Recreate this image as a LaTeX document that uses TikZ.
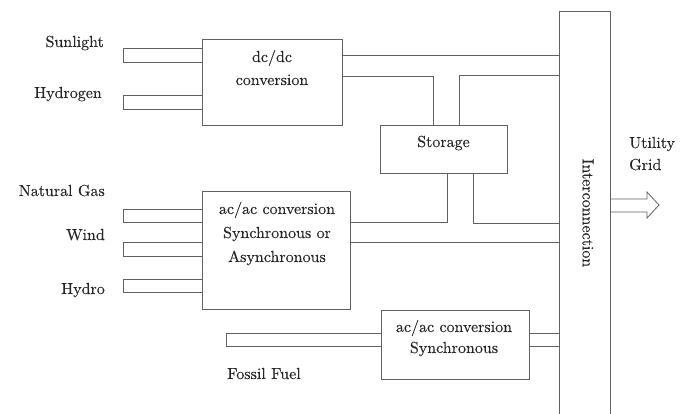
\documentclass[tikz,border=0pt]{standalone}
\usepackage{fontspec}
\setmainfont{lmroman10-regular.otf}[FakeBold=0.15]
\definecolor{linec}{gray}{0.38}
\definecolor{textc}{gray}{0.15}
\begin{document}
\begin{tikzpicture}[x=1pt,y=-1pt,
  box/.style={draw=linec,line width=0.8pt,inner sep=0pt,outer sep=0pt},
  wire/.style={draw=linec,line width=0.8pt},
  lbl/.style={text=textc,inner sep=0pt,font=\fontsize{16}{19}\selectfont}]
\useasboundingbox (0,0) rectangle (689,413);
% boxes
\node[box,minimum width=140pt,minimum height=86pt] (dcdc) at (272,82) {};
\node[box,minimum width=127pt,minimum height=48pt] (storage) at (443.5,149) {};
\node[box,minimum width=148pt,minimum height=118pt] (acac) at (276,250) {};
\node[box,minimum width=148pt,minimum height=69pt] (acsync) at (455,344.5) {};
\node[box,minimum width=51pt,minimum height=406pt] (inter) at (584.5,214.5) {};
% box texts
\node[lbl,anchor=base] (dct1) at (272,62) {dc/dc};
\node[lbl,anchor=base] (dct2) at (272,85) {conversion};
\node[lbl,anchor=base] (stt) at (443.5,147) {Storage};
\node[lbl,anchor=base] (act1) at (277,214) {ac/ac conversion};
\node[lbl,anchor=base] (act2) at (277,238) {Synchronous or};
\node[lbl,anchor=base] (act3) at (277,262) {Asynchronous};
\node[lbl,anchor=base] (ast1) at (454,332) {ac/ac conversion};
\node[lbl,anchor=base] (ast2) at (454,353) {Synchronous};
\node[lbl,rotate=-90] (intt) at (588,213) {Interconnection};
% source labels
\node[lbl,anchor=base east] (sun) at (104,47) {Sunlight};
\node[lbl,anchor=base east] (hyd) at (102,98) {Hydrogen};
\node[lbl,anchor=base east] (gas) at (105,196) {Natural Gas};
\node[lbl,anchor=base east] (wind) at (105,240) {Wind};
\node[lbl,anchor=base east] (hydro) at (105,294) {Hydro};
\node[lbl,anchor=base west] (fossil) at (227,379) {Fossil Fuel};
\node[lbl,anchor=base west] (util) at (629,148) {Utility};
\node[lbl,anchor=base west] (grid) at (629,170) {Grid};
% input stubs
\draw[wire] (dcdc.west |- 0,48) -- (123,48) -- (123,62) -- (dcdc.west |- 0,62);
\draw[wire] (dcdc.west |- 0,95) -- (123,95) -- (123,109) -- (dcdc.west |- 0,109);
\draw[wire] (acac.west |- 0,209) -- (123,209) -- (123,222) -- (acac.west |- 0,222);
\draw[wire] (acac.west |- 0,242) -- (123,242) -- (123,256) -- (acac.west |- 0,256);
\draw[wire] (acac.west |- 0,279) -- (123,279) -- (123,292) -- (acac.west |- 0,292);
\draw[wire] (acsync.west |- 0,333) -- (226,333) -- (226,346) -- (acsync.west |- 0,346);
% connections
\draw[wire] (dcdc.east |- 0,55) -- (inter.west |- 0,55);
\draw[wire] (dcdc.east |- 0,76) -- (433,76) -- (433,0 |- storage.north);
\draw[wire] (inter.west |- 0,75) -- (459,75) -- (459,0 |- storage.north);
\draw[wire] (447,0 |- storage.south) -- (447,222) -- (acac.east |- 0,222);
\draw[wire] (473,0 |- storage.south) -- (473,223) -- (inter.west |- 0,223);
\draw[wire] (acac.east |- 0,242) -- (inter.west |- 0,242);
\draw[wire] (acsync.east |- 0,333) -- (inter.west |- 0,333);
\draw[wire] (acsync.east |- 0,346) -- (inter.west |- 0,346);
% output arrow
\draw[wire,line join=miter] (inter.east |- 0,199) -- (647,199) -- (647,192) -- (659,205) -- (647,218) -- (647,212) -- (inter.east |- 0,212);
\end{tikzpicture}
\end{document}
